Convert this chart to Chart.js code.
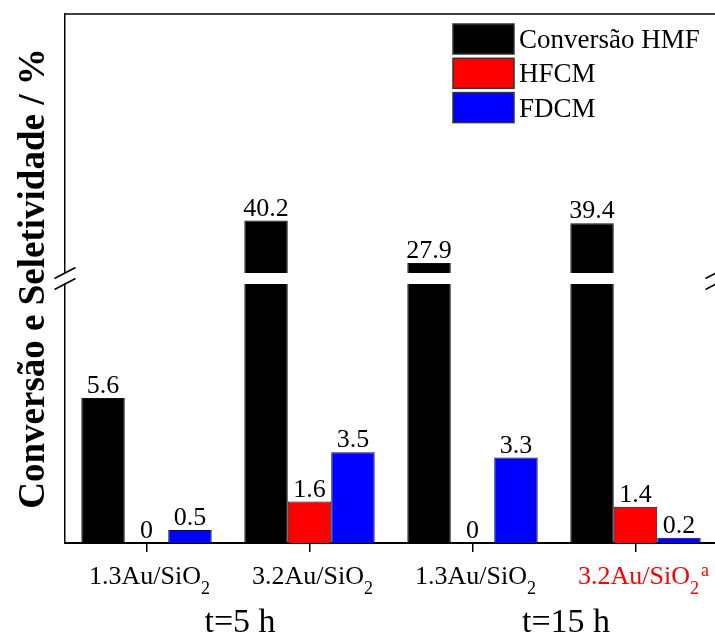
<!DOCTYPE html>
<html>
<head>
<meta charset="utf-8">
<script src="https://cdn.jsdelivr.net/npm/chart.js@4.4.1/dist/chart.umd.min.js"></script>
<style>
  html, body { margin: 0; padding: 0; overflow: hidden; background: #fff; }
  #wrap { width: 720px; height: 637px; }
</style>
</head>
<body>
<div id="wrap"><canvas id="c" width="720" height="637"></canvas></div>
<script>
// ---- data ----
const catalysts = ['1.3Au/SiO', '3.2Au/SiO', '1.3Au/SiO', '3.2Au/SiO'];
const labelSubscripts = ['2', '2', '2', '2'];
const labelSuperscripts = ['', '', '', 'a'];
const labelColors = ['#000000', '#000000', '#000000', '#ff0000'];
const timeGroups = ['t=5 h', 't=15 h'];
const conversion = [5.6, 40.2, 27.9, 39.4];
const hfcm = [0, 1.6, 0, 1.4];
const fdcm = [0.5, 3.5, 3.3, 0.2];
const seriesNames = ['Conversão HMF', 'HFCM', 'FDCM'];
const seriesColors = ['#000000', '#ff0000', '#0000ff'];
const yTitle = 'Conversão e Seletividade / %';

// broken value axis: lower segment and upper segment
const lowerRange = [0, 10];
const upperRange = [25, 100];

// ---- geometry of the break ----
const PLOT_H = 529;   // height of the plotting area in px
const GAP = 11;       // white gap between the two segments in px
const segPx = (PLOT_H - GAP) / 2;
const lowMax = lowerRange[1] + (GAP / 2) * (lowerRange[1] - lowerRange[0]) / segPx;
const highMin = upperRange[0] - (GAP / 2) * (upperRange[1] - upperRange[0]) / segPx;

const SERIF = '"Liberation Serif", "Times New Roman", serif';
const fmt = v => (v === 0 ? '0' : v.toFixed(1));

const decor = {
  id: 'decor',
  afterDraw(chart) {
    const { ctx, chartArea: ca, scales } = chart;
    const { x, yLow, yHigh } = scales;
    ctx.save();

    // white gap across the plot for the axis break
    const gTop = yHigh.getPixelForValue(upperRange[0]);
    const gBot = yLow.getPixelForValue(lowerRange[1]);
    ctx.fillStyle = '#fff';
    ctx.fillRect(ca.left - 3, gTop, ca.right - ca.left + 6, gBot - gTop);

    // break marks on both vertical sides
    ctx.strokeStyle = '#000';
    ctx.lineWidth = 1.5;
    [ca.left, ca.right - 1].forEach(ax => {
      [gTop, gBot].forEach(yc => {
        ctx.beginPath();
        ctx.moveTo(ax - 10.5, yc + 5.5);
        ctx.lineTo(ax + 10.5, yc - 5.5);
        ctx.stroke();
      });
    });

    // top frame line
    ctx.beginPath();
    ctx.moveTo(ca.left, ca.top);
    ctx.lineTo(ca.right, ca.top);
    ctx.stroke();

    // value labels above the bars
    ctx.fillStyle = '#000';
    ctx.font = '26px ' + SERIF;
    ctx.textAlign = 'center';
    ctx.textBaseline = 'alphabetic';
    const mLow = chart.getDatasetMeta(0), mHigh = chart.getDatasetMeta(1);
    const mH = chart.getDatasetMeta(2), mF = chart.getDatasetMeta(3);
    conversion.forEach((v, i) => {
      const el = v > highMin ? mHigh.data[i] : mLow.data[i];
      ctx.fillText(fmt(v), el.x, el.y - 5);
    });
    hfcm.forEach((v, i) => ctx.fillText(fmt(v), mH.data[i].x, mH.data[i].y - 5));
    fdcm.forEach((v, i) => ctx.fillText(fmt(v), mF.data[i].x, mF.data[i].y - 5));

    // category labels with subscript / superscript
    const baseY = ca.bottom + 41;
    catalysts.forEach((txt, i) => {
      const cx = x.getPixelForValue(i) + 3;
      ctx.font = '26px ' + SERIF;
      const wMain = ctx.measureText(txt).width;
      ctx.font = '18px ' + SERIF;
      const wSub = ctx.measureText(labelSubscripts[i]).width;
      const x0 = cx - (wMain + wSub) / 2;
      ctx.fillStyle = labelColors[i];
      ctx.textAlign = 'left';
      ctx.font = '26px ' + SERIF;
      ctx.fillText(txt, x0, baseY);
      ctx.font = '18px ' + SERIF;
      ctx.fillText(labelSubscripts[i], x0 + wMain, baseY + 10);
      if (labelSuperscripts[i]) ctx.fillText(labelSuperscripts[i], x0 + wMain + wSub + 2, baseY - 8);
    });

    // time group labels
    ctx.fillStyle = '#000';
    ctx.textAlign = 'center';
    ctx.font = '34px ' + SERIF;
    timeGroups.forEach((t, g) => {
      const cx = (x.getPixelForValue(2 * g) + x.getPixelForValue(2 * g + 1)) / 2 + 12;
      ctx.fillText(t, cx, ca.bottom + 89);
    });

    // value axis title
    ctx.save();
    ctx.font = 'bold 37px ' + SERIF;
    ctx.translate(44, (ca.top + ca.bottom) / 2);
    ctx.rotate(-Math.PI / 2);
    ctx.textAlign = 'center';
    ctx.fillText(yTitle, 0, 0);
    ctx.restore();

    // legend
    const lx = 453, ly = 24, bw = 61, bh = 30, step = 34.3;
    seriesNames.forEach((name, k) => {
      const by = ly + k * step;
      ctx.fillStyle = seriesColors[k];
      ctx.fillRect(lx, by, bw, bh);
      ctx.strokeStyle = '#333';
      ctx.lineWidth = 1.5;
      ctx.strokeRect(lx, by, bw, bh);
      ctx.fillStyle = '#000';
      ctx.textAlign = 'left';
      ctx.font = '27px ' + SERIF;
      ctx.fillText(name, lx + bw + 5, by + bh / 2 + 9);
    });

    ctx.restore();
  }
};

const barBase = { borderColor: '#111', borderWidth: 1 };

new Chart(document.getElementById('c'), {
  type: 'bar',
  data: {
    labels: catalysts,
    datasets: [
      { ...barBase, label: seriesNames[0], data: conversion.map(v => Math.min(v, lowMax)),
        yAxisID: 'yLow', stack: 'conv', backgroundColor: seriesColors[0] },
      { ...barBase, label: seriesNames[0], data: conversion.map(v => (v > highMin ? [highMin, v] : null)),
        yAxisID: 'yHigh', stack: 'conv', backgroundColor: seriesColors[0] },
      { ...barBase, label: seriesNames[1], data: hfcm,
        yAxisID: 'yLow', stack: 'hfcm', backgroundColor: seriesColors[1] },
      { ...barBase, label: seriesNames[2], data: fdcm,
        yAxisID: 'yLow', stack: 'fdcm', backgroundColor: seriesColors[2] }
    ]
  },
  options: {
    responsive: false,
    animation: false,
    devicePixelRatio: 1,
    layout: { padding: { left: 65, top: 14, right: 3, bottom: 85 } },
    datasets: { bar: { categoryPercentage: 0.8, barPercentage: 1.0 } },
    plugins: { legend: { display: false }, tooltip: { enabled: false } },
    scales: {
      x: {
        type: 'category',
        offset: true,
        z: 1,
        ticks: { display: false },
        grid: { display: true, drawOnChartArea: false, drawTicks: true, tickLength: 9,
                offset: false, color: '#000', lineWidth: 1.5 },
        border: { display: true, color: '#000', width: 2 }
      },
      yLow: {
        type: 'linear', position: 'left', stack: 'v', stackWeight: 1, weight: 1,
        min: 0, max: lowMax, stacked: false,
        ticks: { display: false }, grid: { display: false, drawTicks: false, tickLength: 0 },
        border: { display: true, color: '#000', width: 1.5 }
      },
      yHigh: {
        type: 'linear', position: 'left', stack: 'v', stackWeight: 1, weight: 2,
        min: highMin, max: upperRange[1], stacked: false,
        ticks: { display: false }, grid: { display: false, drawTicks: false, tickLength: 0 },
        border: { display: true, color: '#000', width: 1.5 }
      }
    }
  },
  plugins: [decor]
});
</script>
</body>
</html>
